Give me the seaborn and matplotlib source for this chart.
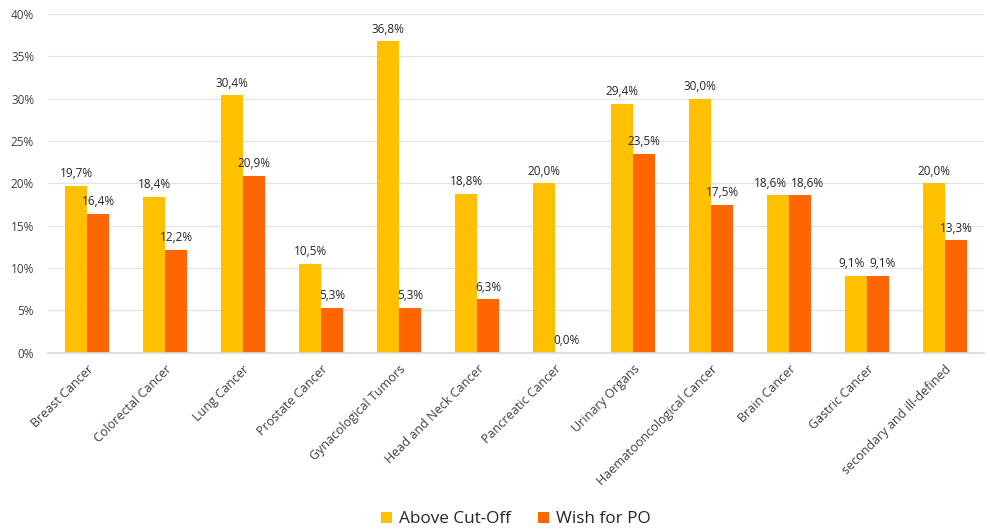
import matplotlib
matplotlib.use("Agg")
import matplotlib.pyplot as plt
import seaborn as sns
import pandas as pd
from matplotlib.ticker import FuncFormatter

categories = ["Breast Cancer", "Colorectal Cancer", "Lung Cancer", "Prostate Cancer",
              "Gynacological Tumors", "Head and Neck Cancer", "Pancreatic Cancer",
              "Urinary Organs", "Haematooncological Cancer", "Brain Cancer",
              "Gastric Cancer", "secondary and ill-defined"]
above_cutoff = [19.7, 18.4, 30.4, 10.5, 36.8, 18.8, 20.0, 29.4, 30.0, 18.6, 9.1, 20.0]
wish_for_po = [16.4, 12.2, 20.9, 5.3, 5.3, 6.3, 0.0, 23.5, 17.5, 18.6, 9.1, 13.3]
series_names = ["Above Cut-Off", "Wish for PO"]
colors = ["#FFC000", "#FF6600"]

df = pd.DataFrame({
    "category": categories * 2,
    "value": above_cutoff + wish_for_po,
    "series": [series_names[0]] * len(categories) + [series_names[1]] * len(categories),
})

sns.set_theme(style="white")
plt.rcParams["font.family"] = ["Open Sans", "DejaVu Sans"]

fig = plt.figure(figsize=(9.9, 5.29), dpi=100)
ax = fig.add_axes([0.0485, 0.333, 0.9455, 0.6405])

sns.barplot(data=df, x="category", y="value", hue="series", palette=colors,
            width=0.565, gap=0, ax=ax, saturation=1, legend=True, linewidth=0)

ax.set_ylim(0, 40)
ax.set_yticks(range(0, 41, 5))
ax.yaxis.set_major_formatter(FuncFormatter(lambda v, p: f"{int(v)}%"))
ax.grid(axis="y", color="#e3e3e3", linewidth=0.9)
ax.set_axisbelow(True)
for s in ["top", "right", "left"]:
    ax.spines[s].set_visible(False)
ax.spines["bottom"].set_color("#d9d9d9")
ax.set_xlim(-0.5, len(categories) - 0.5)
ax.set_xlabel("")
ax.set_ylabel("")
ax.tick_params(axis="y", labelsize=8.5, colors="#404040", length=0, pad=10)
ax.tick_params(axis="x", labelsize=9, colors="#404040", length=0, pad=7)
plt.setp(ax.get_xticklabels(), rotation=45, ha="right", rotation_mode="anchor")

label_sets = []
for cont in ax.containers:
    texts = ax.bar_label(cont, labels=[f"{v:.1f}%".replace(".", ",") for v in cont.datavalues],
                         fontsize=8.5, color="#262626", padding=4)
    label_sets.append(texts)

# nudge overlapping label pairs apart
fig.canvas.draw()
renderer = fig.canvas.get_renderer()
for t1, t2 in zip(label_sets[0], label_sets[1]):
    b1 = t1.get_window_extent(renderer)
    b2 = t2.get_window_extent(renderer)
    if b1.y0 < b2.y1 and b2.y0 < b1.y1:
        overlap = b1.x1 - b2.x0 + 4
        if overlap > 0:
            dpt = overlap / 2 * 72.0 / fig.dpi
            x1, y1 = t1.xyann
            x2, y2 = t2.xyann
            t1.xyann = (x1 - dpt, y1)
            t2.xyann = (x2 + dpt, y2)

handles, labels = ax.get_legend_handles_labels()
ax.legend(handles, labels, loc="lower center", bbox_to_anchor=(0.5, -0.56),
          ncol=2, frameon=False, fontsize=12.3, handlelength=0.65, handleheight=0.65,
          columnspacing=1.6, handletextpad=0.4, labelcolor="#262626")

fig.savefig("out.png", dpi=100)
